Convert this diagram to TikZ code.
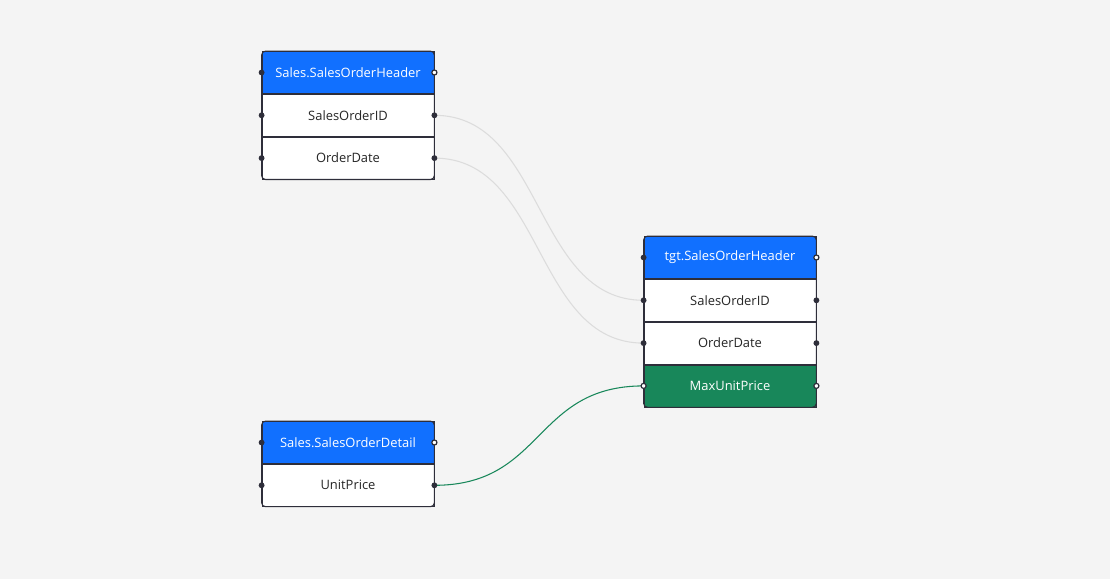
\documentclass[tikz,border=0pt]{standalone}
\usepackage{fontspec}
\setmainfont{Open Sans}
\usetikzlibrary{positioning}

\definecolor{bg}{HTML}{F4F4F4}
\definecolor{hdrblue}{HTML}{1170FF}
\definecolor{mapgreen}{HTML}{18875A}
\definecolor{frame}{HTML}{2E2E3A}
\definecolor{wire}{HTML}{DCDCDC}

\begin{document}
\begin{tikzpicture}[x=0.75pt,y=-0.75pt,
  row/.style={draw=frame,line width=0.6pt,fill=white,minimum width=129pt,minimum height=31.5pt,
    inner sep=0pt,font=\fontsize{9.7}{11}\selectfont,text=black!85},
  hdr/.style={row,fill=hdrblue,text=white},
  mapped/.style={row,fill=mapgreen,text=white},
  link/.style={draw=wire,line width=0.8pt},
  greenlink/.style={draw=mapgreen,line width=0.8pt},
  pin/.style={fill=frame},
  hollowpin/.style={fill=white,draw=frame,line width=0.9pt}]

\useasboundingbox[fill=bg] (0,0) rectangle (1110,579);

% source tables
\node[hdr] (soh) at (348,72.5) {Sales.SalesOrderHeader};
\node[row,below=0pt of soh] (sohid) {SalesOrderID};
\node[row,below=0pt of sohid] (sohdate) {OrderDate};

\node[hdr] (sod) at (348,442.5) {Sales.SalesOrderDetail};
\node[row,below=0pt of sod] (sodprice) {UnitPrice};

% target table
\node[hdr] (tgt) at (730,257.5) {tgt.SalesOrderHeader};
\node[row,below=0pt of tgt] (tgtid) {SalesOrderID};
\node[row,below=0pt of tgtid] (tgtdate) {OrderDate};
\node[mapped,below=0pt of tgtdate] (tgtmax) {MaxUnitPrice};

\draw[frame,line width=0.8pt,rounded corners=3pt] (soh.north west) rectangle (sohdate.south east);
\draw[frame,line width=0.8pt,rounded corners=3pt] (sod.north west) rectangle (sodprice.south east);
\draw[frame,line width=0.8pt,rounded corners=3pt] (tgt.north west) rectangle (tgtmax.south east);

% lineage
\draw[link] (sohid.east) .. controls +(110,0) and +(-110,0) .. (tgtid.west);
\draw[link] (sohdate.east) .. controls +(110,0) and +(-110,0) .. (tgtdate.west);
\draw[greenlink] (sodprice.east) .. controls +(110,0) and +(-110,0) .. (tgtmax.west);

\foreach \n in {soh,sohid,sohdate,sod,sodprice,tgt,tgtid,tgtdate}
  \fill[pin] (\n.west) circle[radius=2.2pt];
\foreach \n in {sohid,sohdate,sodprice,tgtid,tgtdate}
  \fill[pin] (\n.east) circle[radius=2.2pt];
\foreach \n in {soh,sod,tgt,tgtmax}
  \draw[hollowpin] (\n.east) circle[radius=1.9pt];
\draw[hollowpin] (tgtmax.west) circle[radius=1.9pt];

\end{tikzpicture}
\end{document}
